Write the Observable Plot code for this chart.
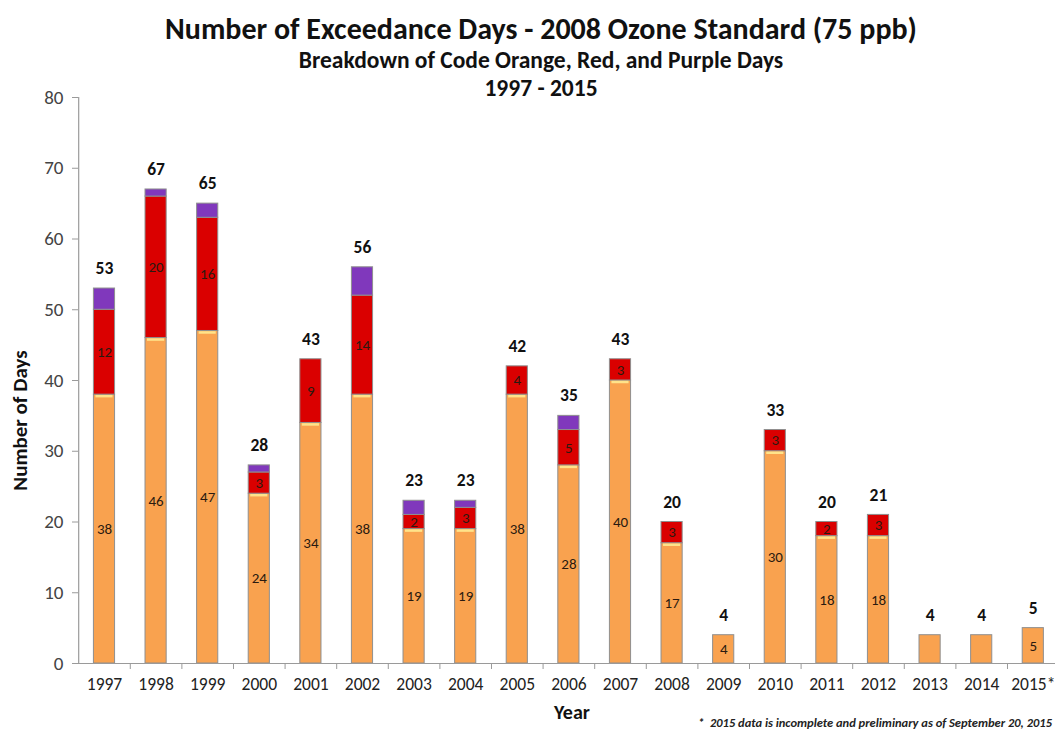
<!DOCTYPE html>
<html>
<head>
<meta charset="utf-8">
<script src="https://cdn.jsdelivr.net/npm/d3@7"></script>
<script src="https://cdn.jsdelivr.net/npm/@observablehq/plot@0.6"></script>
<style>
  html, body { margin: 0; padding: 0; background: #fff; }
  #wrap { position: relative; width: 1055px; height: 732px; font-family: Carlito, Lato, "Open Sans", sans-serif; }
  .t { position: absolute; left: 0; width: 1082px; text-align: center; font-weight: bold; color: #111; line-height: 1; }
  #title { top: 14px; font-size: 30px; }
  #sub1 { top: 49px; font-size: 23.5px; }
  #sub2 { top: 77px; font-size: 23.5px; }
  #note { position: absolute; right: 3px; top: 716px; font-size: 12.5px; line-height: 1.1; font-style: italic; font-weight: bold; color: #222; }
</style>
</head>
<body>
<div id="wrap">
  <div id="chart"></div>
  <div class="t" id="title">Number of Exceedance Days - 2008 Ozone Standard (75 ppb)</div>
  <div class="t" id="sub1">Breakdown of Code Orange, Red, and Purple Days</div>
  <div class="t" id="sub2">1997 - 2015</div>
  <div id="note">*&nbsp; 2015 data is incomplete and preliminary as of September 20, 2015</div>
</div>
<script>
const years   = ["1997","1998","1999","2000","2001","2002","2003","2004","2005","2006","2007","2008","2009","2010","2011","2012","2013","2014","2015*"];
const orange  = [38, 46, 47, 24, 34, 38, 19, 19, 38, 28, 40, 17, 4, 30, 18, 18, 4, 4, 5];
const red     = [12, 20, 16, 3, 9, 14, 2, 3, 4, 5, 3, 3, 0, 3, 2, 3, 0, 0, 0];
const purple  = [3, 1, 2, 1, 0, 4, 2, 1, 0, 2, 0, 0, 0, 0, 0, 0, 0, 0, 0];
const totals  = [53, 67, 65, 28, 43, 56, 23, 23, 42, 35, 43, 20, 4, 33, 20, 21, 4, 4, 5];
// orange-segment labels as printed (2013 and 2014 carry none)
const orangeLabels = ["38","46","47","24","34","38","19","19","38","28","40","17","4","30","18","18",null,null,"5"];
const categories = ["Code Orange", "Code Red", "Code Purple"];
const colors = ["#F9A24F", "#DA0000", "#8038BC"];
const yTicks = [0, 10, 20, 30, 40, 50, 60, 70, 80];

const rows = [];
years.forEach((yr, i) => {
  rows.push({year: yr, cat: categories[0], value: orange[i], label: orangeLabels[i]});
  rows.push({year: yr, cat: categories[1], value: red[i], label: red[i] > 0 ? String(red[i]) : null});
  rows.push({year: yr, cat: categories[2], value: purple[i], label: null});
});
const totalRows = years.map((yr, i) => ({year: yr, total: totals[i]}));
const orangeRows = years.map((yr, i) => ({year: yr, v: orange[i]}));

const W = 1055, ML = 78, MR = 0;
const PI = 0.59, PO = 0.262;
const step = (W - ML - MR) / (years.length - PI + 2 * PO);

const chart = Plot.plot({
  width: W,
  height: 732,
  marginTop: 97,
  marginBottom: 69,
  marginLeft: ML,
  marginRight: MR,
  style: {fontFamily: "Carlito, Lato, 'Open Sans', sans-serif", fontSize: "16px", background: "#fff"},
  x: {domain: years, type: "band", paddingInner: PI, paddingOuter: PO, align: 0.57, round: false, label: null},
  y: {domain: [0, 80], ticks: yTicks, label: null},
  color: {domain: categories, range: colors},
  marks: [
    Plot.barY(rows, Plot.stackY({x: "year", y: "value", fill: "cat", z: "cat", order: categories, stroke: "#8f8f8f", strokeWidth: 1})),
    Plot.tickY(orangeRows.filter((d, i) => red[i] + purple[i] > 0), {x: "year", y: "v", stroke: "#FFE38A", strokeWidth: 2.5, dy: 1.5, insetLeft: 2, insetRight: 2}),
    Plot.text(rows, Plot.stackY({x: "year", y: "value", z: "cat", text: "label", order: categories, fontSize: 15, fill: "#2a1a10"})),
    Plot.text(totalRows, {x: "year", y: "total", text: d => String(d.total), dy: -20, fontSize: 17.5, fontWeight: "bold", fill: "#111"}),
    Plot.ruleY([0], {stroke: "#9a9a9a", strokeWidth: 1.2}),
    Plot.ruleX([years[0]], {y1: 0, y2: 80, dx: -step / 2, stroke: "#9a9a9a", strokeWidth: 1.2}),
    Plot.axisY({ticks: yTicks, tickSize: 6, text: null, stroke: "#9a9a9a", label: null}),
    Plot.text(yTicks, {y: d => d, frameAnchor: "left", textAnchor: "end", dx: -15, text: d => String(d), fontSize: 19, fill: "#444"}),
    Plot.text(years, {x: d => d, frameAnchor: "bottom", dy: 26, text: d => d, fontSize: 17.5, fill: "#222"}),
    Plot.axisX({tickSize: 6, text: null, dx: step / 2, stroke: "#9a9a9a", label: null}),
    Plot.text(["Year"], {frameAnchor: "bottom", dy: 55, text: d => d, fontSize: 20, fontWeight: "bold", fill: "#111", dx: 5}),
    Plot.text(["Number of Days"], {frameAnchor: "left", textAnchor: "middle", dx: -58, rotate: -90, text: d => d, fontSize: 21, fontWeight: "bold", fill: "#111", dy: 40})
  ]
});
document.getElementById("chart").appendChild(chart);
</script>
</body>
</html>
